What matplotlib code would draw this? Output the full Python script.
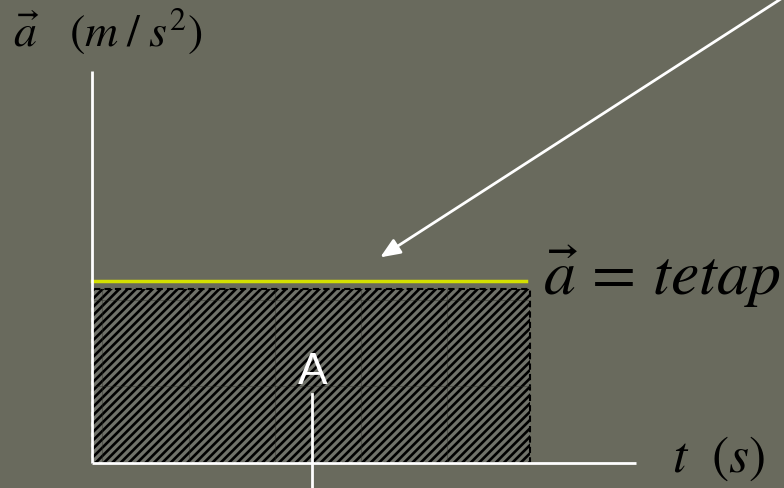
import matplotlib
matplotlib.use("Agg")
import matplotlib.pyplot as plt
from matplotlib.patches import Rectangle

# ---- data ----
t_end = 5.0           # duration of constant acceleration (s)
a_const = 2.0         # constant acceleration value
t_axis_max = 6.21
a_axis_max = 4.40
grid_t = [0.11, 1.11, 2.09, 3.07, 4.05]
grid_a = [0.87, 1.83]
area_label = "A"
ylabel = r"$\vec{a}\ \ \ (m\;/\;s^{2})$"
xlabel = r"$t\ \ (s)$"
const_label = r"$\vec{a}\,=\,tetap$"

BG = "#696A5D"
plt.rcParams["mathtext.fontset"] = "stix"

fig = plt.figure(figsize=(7.84, 4.89), dpi=100, facecolor=BG)
ax = fig.add_axes([0, 0, 1, 1])
ax.set_facecolor(BG)
ax.set_xlim(-1.05, 7.90)
ax.set_ylim(-0.281, 5.213)
ax.axis("off")

# hatched area
plt.rcParams["hatch.linewidth"] = 1.9
rect = Rectangle((0, 0), t_end, a_const * 0.98, facecolor="#70726a", edgecolor="black",
                 hatch="////", linewidth=1.5, linestyle=(0, (3, 2)), zorder=2)
ax.add_patch(rect)
# faint grid inside
for gt in grid_t:
    ax.plot([gt, gt], [0, a_const * 0.98], color="#2a2b25", lw=0.8, alpha=0.4, zorder=3)
for ga in grid_a:
    ax.plot([0, t_end], [ga, ga], color="#2a2b25", lw=0.8, alpha=0.4, zorder=3)

# constant acceleration line
ax.plot([0, t_end * 0.99], [a_const * 1.02, a_const * 1.02], color="#D4E000", lw=2.5, zorder=4)

# axes
ax.plot([0, 0], [0, a_axis_max], color="white", lw=2, zorder=5, solid_capstyle="butt")
ax.plot([0, t_axis_max], [0, 0], color="white", lw=2, zorder=5, solid_capstyle="butt")

# labels
ax.text(-0.90, 4.70, ylabel, fontsize=33, color="black", va="baseline", ha="left")
ax.text(6.62, -0.09, xlabel, fontsize=37, color="black", va="baseline", ha="left")
ax.text(5.15, 1.90, const_label, fontsize=46, color="black", va="baseline", ha="left")

# area label and pointer
ax.text(2.52, 1.03, area_label, fontsize=32, color="white", ha="center", va="center",
        family="Liberation Sans", zorder=6)
ax.plot([2.51, 2.51], [0.775, -0.35], color="white", lw=2, zorder=6)

# arrow pointing to the line
ax.annotate("", xy=(3.29, 2.31), xytext=(8.0, 5.30),
            arrowprops=dict(arrowstyle="-|>,head_length=1.2,head_width=0.5",
                            color="white", lw=2, shrinkA=0, shrinkB=0), zorder=6)

fig.savefig("out.png", dpi=100, facecolor=BG)
